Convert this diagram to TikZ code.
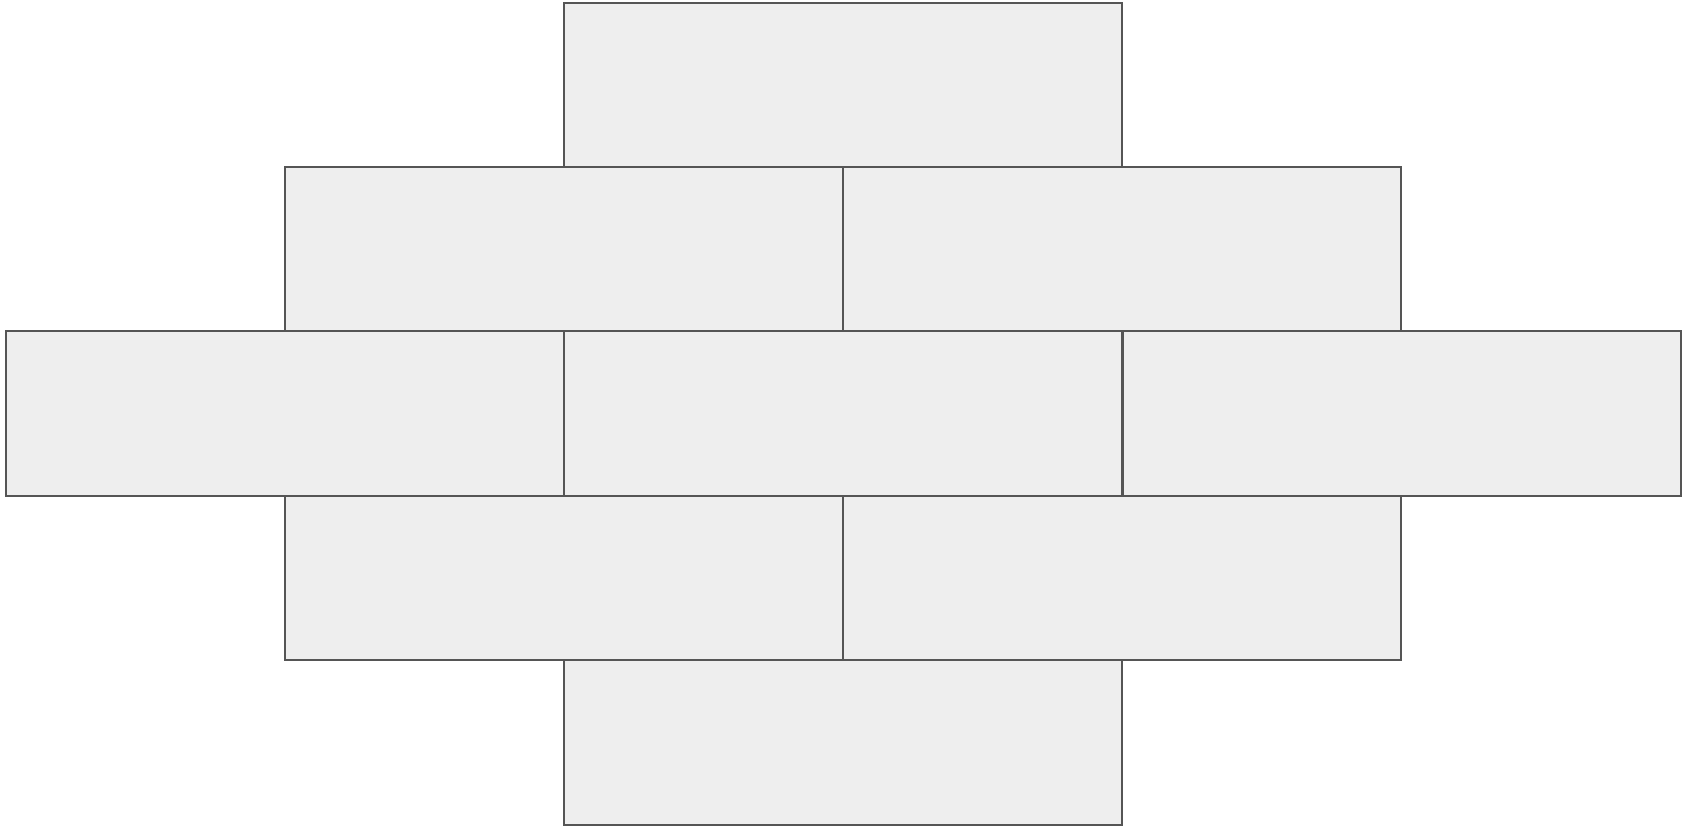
\documentclass[tikz,border=0pt]{standalone}
\usepackage{tikz}
\usetikzlibrary{positioning}
\definecolor{brickfill}{HTML}{EEEEEE}
\definecolor{brickline}{HTML}{555555}
\tikzset{brick/.style={draw=brickline,fill=brickfill,line width=0.55pt,minimum width=55.8mm,minimum height=16.45mm,inner sep=0pt,outer sep=0pt}  }

\begin{document}
\begin{tikzpicture}[x=0.1mm,y=-0.1mm]
		\useasboundingbox (0,0) rectangle (1689,827);
			\node[brick] (r1) at (843.4,85.1) {};
			\node[brick] (r2a) at (564.4,249.4) {};
			\node[brick] (r2b) at (1122.4,249.4) {};
			\node[brick] (r3a) at (284.9,413.7) {};
			\node[brick] (r3b) at (843.4,413.7) {};
			\node[brick] (r3c) at (1401.9,413.7) {};
			\node[brick] (r4a) at (564.4,578) {};
			\node[brick] (r4b) at (1122.4,578) {};
			\node[brick] (r5) at (843.4,742.3) {};
	\end{tikzpicture}
\end{document}
